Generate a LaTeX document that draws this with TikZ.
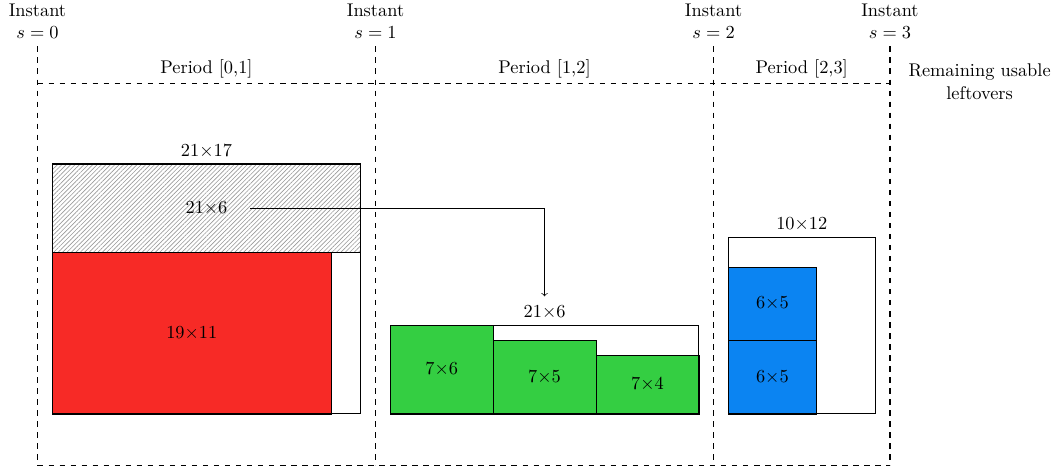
\documentclass[tikz,border=0pt]{standalone}
\usetikzlibrary{patterns.meta}

\definecolor{cutred}{RGB}{247,42,38}
\definecolor{cutgreen}{RGB}{52,206,66}
\definecolor{cutblue}{RGB}{11,132,242}

\tikzset{
    timeline/.style={dashed, semithick},
    sheet/.style={draw, semithick},
    piece/.style={draw, thin},
    waste/.style={pattern={Lines[angle=45, distance=1.7pt, line width=0.35pt]}, pattern color=gray!80},
}

\begin{document}
\begin{tikzpicture}[x=8pt, y=8pt]
    \useasboundingbox (-2.55,-4.08) rectangle (69.57,28.16);

    % instants and periods
    \foreach \x/\s in {0/0, 23/1, 46/2, 58/3} {
        \draw[timeline] (\x,25) -- (\x,-3.5);
        \node[align=center] (inst\s) at (\x,26.7) {Instant\\$s=\s$};
    }
    \draw[timeline] (0,22.5) -- (58,22.5);
    \draw[timeline] (0,-3.5) -- (58,-3.5);
    \node (per1) at (11.5,23.5) {Period [0,1]};
    \node (per2) at (34.5,23.5) {Period [1,2]};
    \node (per3) at (52,23.5) {Period [2,3]};
    \node[align=center] (rest) at (64.1,22.6) {Remaining usable\\leftovers};

    % period [0,1]
    \fill[waste] (1,11) rectangle (22,17);
    \fill[cutred] (1,0) rectangle (20,11);
    \draw[piece] (1,0) rectangle (20,11);
    \draw[sheet] (1,0) rectangle (22,17);
    \draw[sheet] (1,11) -- (22,11);
    \node[above] (sheet1) at (11.5,17) {$21{\times}17$};
    \node (cut) at (11.5,14) {$21{\times}6$};
    \node (red1) at (10.5,5.5) {$19{\times}11$};

    % period [1,2]
    \fill[cutgreen] (24,0) rectangle (31,6);
    \fill[cutgreen] (31,0) rectangle (38,5);
    \fill[cutgreen] (38,0) rectangle (45,4);
    \draw[piece] (24,0) rectangle (31,6);
    \draw[piece] (31,0) rectangle (38,5);
    \draw[piece] (38,0) rectangle (45,4);
    \draw[sheet] (24,0) rectangle (45,6);
    \node[above] (sheet2) at (34.5,6) {$21{\times}6$};
    \node (green1) at (27.5,3) {$7{\times}6$};
    \node (green2) at (34.5,2.5) {$7{\times}5$};
    \node (green3) at (41.5,2) {$7{\times}4$};

    % period [2,3]
    \fill[cutblue] (47,0) rectangle (53,10);
    \draw[piece] (47,0) rectangle (53,5);
    \draw[piece] (47,5) rectangle (53,10);
    \draw[sheet] (47,0) rectangle (57,12);
    \node[above] (sheet3) at (52,12) {$10{\times}12$};
    \node (blue1) at (50,2.5) {$6{\times}5$};
    \node (blue2) at (50,7.5) {$6{\times}5$};

    % leftover carried over
    \coordinate (drop) at (34.5,8);
    \draw[->, shorten <=9pt] (cut.east) -| (drop);
\end{tikzpicture}
\end{document}
